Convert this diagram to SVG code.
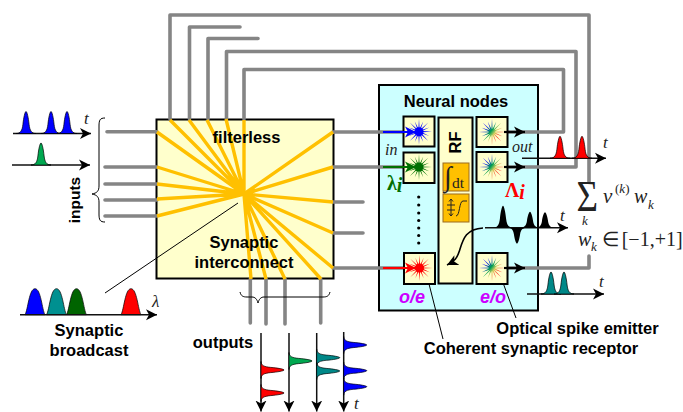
<svg xmlns="http://www.w3.org/2000/svg" width="683" height="412" viewBox="0 0 683 412">
<style>
text{font-family:"Liberation Sans",Arial,sans-serif;fill:#000}
.b{font-weight:700;font-size:16.5px;text-anchor:middle}
.m{font-weight:700;font-style:italic;font-size:18px;fill:#cc00ff}
.s{font-family:"Liberation Serif","Times New Roman",serif;font-style:italic;font-size:16px;fill:#222}
.r{font-family:"Liberation Serif","Times New Roman",serif;fill:#222}
.box{fill:#ffffcc;stroke:#000;stroke-width:2}
.sm{fill:#ffc000;stroke:#9c6b1e;stroke-width:1}
.g{fill:none;stroke:#858585;stroke-width:3.6;stroke-linejoin:round;stroke-linecap:round}
.y{fill:none;stroke:#ffc000;stroke-width:3.4}
.ax{fill:none;stroke:#111;stroke-width:1.5;marker-end:url(#ah)}
.th{fill:none;stroke:#000;stroke-width:1}
.k{fill:none;stroke:#000;stroke-width:2.2;marker-end:url(#ah)}
.pu{stroke:#000;stroke-width:.7}
</style>
<defs>
<marker id="ah" markerUnits="userSpaceOnUse" markerWidth="12" markerHeight="12" refX="11" refY="6" orient="auto"><path d="M0 .5L11 6L0 11.5L3 6Z" fill="#000"/></marker>
<marker id="ahb" markerUnits="userSpaceOnUse" markerWidth="12" markerHeight="12" refX="11" refY="6" orient="auto"><path d="M0 .5L11 6L0 11.5L3 6Z" fill="#0000ff"/></marker>
<marker id="ahg" markerUnits="userSpaceOnUse" markerWidth="12" markerHeight="12" refX="11" refY="6" orient="auto"><path d="M0 .5L11 6L0 11.5L3 6Z" fill="#007000"/></marker>
<marker id="ahr" markerUnits="userSpaceOnUse" markerWidth="12" markerHeight="12" refX="11" refY="6" orient="auto"><path d="M0 .5L11 6L0 11.5L3 6Z" fill="#ff0000"/></marker>
<path id="spike" d="M-10 0C-5.5 0-3.8-3-3.1-9C-2.4-16-1-22 0-22C1-22 2.4-16 3.1-9C3.8-3 5.5 0 10 0Z"/>
<path id="hump" d="M-10 0C-7-5-6-26 0-26C6-26 7-5 10 0Z"/>
<path id="ray" d="M13 0L2.94 .59L10.2 4.2L2.49 1.67L9.2 9.2L1.67 2.49L4.2 10.2L.59 2.94L0 13L-.59 2.94L-4.2 10.2L-1.67 2.49L-9.2 9.2L-2.49 1.67L-10.2 4.2L-2.94 .59L-13 0L-2.94 -.59L-10.2 -4.2L-2.49 -1.67L-9.2 -9.2L-1.67 -2.49L-4.2 -10.2L-.59 -2.94L0 -13L.59 -2.94L4.2 -10.2L1.67 -2.49L9.2 -9.2L2.49 -1.67L10.2 -4.2L2.94 -.59Z"/>
<linearGradient id="rb" gradientUnits="userSpaceOnUse" x1="-9" y1="-6" x2="9" y2="8">
<stop offset=".12" stop-color="#0000ff"/><stop offset=".42" stop-color="#00a050"/><stop offset=".6" stop-color="#d8d060"/><stop offset=".82" stop-color="#ff2020"/>
</linearGradient>
</defs>

<g id="interconnect"><rect x="156.5" y="119.5" width="177" height="159" class="box"/></g>
<g id="neural-nodes"><rect x="379" y="85" width="159" height="225.5" fill="#ccffff" stroke="#000" stroke-width="2"/></g>
<g id="rf"><rect x="438.5" y="117.5" width="34" height="166" class="box"/>
<rect x="443" y="163" width="26" height="28" class="sm"/><rect x="443" y="194" width="26" height="28" class="sm"/>
<text class="r" x="444" y="186" font-size="28">∫</text>
<text class="r" x="452" y="188" font-size="15.5">dt</text>
<path d="M451 199V216M449 201.5L451 199L453 201.5M449 213.5L451 216L453 213.5M447 205H455M447 210H455M456 216C460 216 459 201 463 201H467" fill="none" stroke="#222" stroke-width="1"/>
</g>

<g id="connectors">
<g class="g">
<path d="M170 119V15H589V182"/>
<path d="M189.5 119V27H240"/>
<path d="M208 119V38.5H258"/>
<path d="M226.5 119V51.5H576V167H505"/>
<path d="M244 119V69.5H563.5V132H505"/>
<path d="M505 268H589V256"/>
<path d="M107 131.7H157M105 167H157M105 184H157M105 200H157M105 216H157"/>
<path d="M333 132H403M333 167H403M333 202H363M333 233H363M333 268H403"/>
<path d="M250.3 279V323M266 279V324M285 279V324M320.7 279V323"/>
</g>
<g class="y">
<path d="M170 120L244 194M189 120L244 194M207 120L244 194M226 119L244 194M244 120V194"/>
<path d="M157 132L244 194M157 167L244 194M157 184L244 194M157 199L244 194M157 216L244 194"/>
<path d="M333 132L244 194M333 167L244 194M333 202L244 194M333 233L244 194M333 268L244 194"/>
<path d="M251 279L244 194M266 279L244 194M285 279L244 194M321 279L244 194"/>
</g>
<path d="M238 203L105 293" class="th"/>
<path d="M428 280L443 339" class="th"/>
<path d="M502 280L516 318" class="th"/>
<path d="M105 118C100 118 99 120 99 126V186C99 191 97 193 92 194C97 195 99 197 99 202V214C99 220 100 222 105 222" class="th" stroke-width="1.2"/>
<path d="M240 292C241 296 243 297 247 297H252C255 297 257 299 258 303C259 299 261 297 264 297H323C327 297 329 296 330 292" class="th" stroke-width="1.2"/>
</g>

<g id="input-pulses">
<path class="ax" d="M13 133.5H91"/><path class="ax" d="M12 165H90"/>
<use href="#spike" class="pu" fill="#0000ff" transform="translate(26,133.5)"/>
<use href="#spike" class="pu" fill="#0000ff" transform="translate(51,133.5)"/>
<use href="#spike" class="pu" fill="#0000ff" transform="translate(67,133.5)"/>
<use href="#spike" class="pu" fill="#00a850" transform="translate(41,165)"/>
</g>
<g id="broadcast-spectrum">
<use href="#hump" class="pu" fill="#0000ff" transform="translate(35,314.7)"/>
<use href="#hump" class="pu" fill="#009090" transform="translate(56.5,314.7)"/>
<use href="#hump" class="pu" fill="#006400" transform="translate(76.5,314.7)"/>
<use href="#hump" class="pu" fill="#ff0000" transform="translate(131,314.7)"/>
<path class="ax" d="M20 314.7H157"/>
</g>
<g id="output-spikes">
<path class="ax" d="M522 158.3H606"/>
<use href="#spike" class="pu" fill="#ff0000" transform="translate(560,158.3)"/>
<use href="#spike" class="pu" fill="#ff0000" transform="translate(582,158.3)"/>
<path class="ax" d="M527 294H604"/>
<use href="#spike" class="pu" fill="#008888" transform="translate(551,294)"/>
<use href="#spike" class="pu" fill="#008888" transform="translate(564,294)"/>
</g>
<g id="emitter-pulses">
<path class="ax" d="M485 227.7H568"/>
<use href="#spike" fill="#000" transform="translate(503,227.7)"/>
<use href="#spike" fill="#000" transform="translate(517,227.7) scale(1,-.72)"/>
<use href="#spike" fill="#000" transform="translate(530,227.7) scale(1,.72)"/>
<use href="#spike" fill="#000" transform="translate(545,227.7) scale(1,.7)"/>
</g>
<g id="time-outputs">
<path class="ax" d="M261 333V411.5"/><path class="ax" d="M289 333V411.5"/><path class="ax" d="M316.7 333V411.5"/><path class="ax" d="M343.7 332V411.5"/>
<use href="#spike" class="pu" fill="#ff0000" transform="translate(261,370) rotate(90) scale(.85,1.05)"/>
<use href="#spike" class="pu" fill="#ff0000" transform="translate(261,393) rotate(90) scale(.85,1.05)"/>
<use href="#spike" class="pu" fill="#00a850" transform="translate(289,361) rotate(90) scale(.85,1.05)"/>
<use href="#spike" class="pu" fill="#008888" transform="translate(316.7,357.7) rotate(90) scale(.85,1.05)"/>
<use href="#spike" class="pu" fill="#008888" transform="translate(316.7,371) rotate(90) scale(.85,1.05)"/>
<use href="#spike" class="pu" fill="#0000ff" transform="translate(343.7,345) rotate(90) scale(.85,1.05)"/>
<use href="#spike" class="pu" fill="#0000ff" transform="translate(343.7,370.7) rotate(90) scale(.85,1.05)"/>
<use href="#spike" class="pu" fill="#0000ff" transform="translate(343.7,386.7) rotate(90) scale(.85,1.05)"/>
</g>

<g id="in-node-1"><rect x="403.5" y="116.5" width="31" height="30" class="box"/><use href="#ray" fill="#0000ff" transform="translate(419,131.7)"/><circle cx="419" cy="131.7" r="4.5" fill="#0000ff"/></g>
<g id="in-node-2"><rect x="403.5" y="152.5" width="31" height="30.5" class="box"/><use href="#ray" fill="#007000" transform="translate(419,167)"/><circle cx="419" cy="167" r="4.5" fill="#007000"/></g>
<g id="in-node-3"><rect x="404" y="253" width="31" height="31" class="box"/><use href="#ray" fill="#ff0000" transform="translate(419.5,268)"/><circle cx="419.5" cy="268" r="4.5" fill="#ff0000"/></g>
<g id="out-node-1"><rect x="476.5" y="117" width="31" height="30" class="box"/><use href="#ray" fill="url(#rb)" transform="translate(492,132)"/></g>
<g id="out-node-2"><rect x="476.5" y="152" width="31" height="30" class="box"/><use href="#ray" fill="url(#rb)" transform="translate(492,167)"/></g>
<g id="out-node-3"><rect x="476.5" y="253" width="31" height="31" class="box"/><use href="#ray" fill="url(#rb)" transform="translate(492,268)"/></g>

<g id="signal-arrows">
<path d="M383 132H416" fill="none" stroke="#0000ff" stroke-width="2.2" marker-end="url(#ahb)"/>
<path d="M383 167H416" fill="none" stroke="#007000" stroke-width="2.2" marker-end="url(#ahg)"/>
<path d="M383 268H416" fill="none" stroke="#ff0000" stroke-width="2.2" marker-end="url(#ahr)"/>
<path class="k" d="M504 132H525"/><path class="k" d="M504 167H525"/><path class="k" d="M504 268H525"/>
<path d="M483 228C465 229 463 240 459 252C457 258 455 261 447 265" fill="none" stroke="#000" stroke-width="1.6" marker-end="url(#ah)"/>
<g fill="#000"><circle cx="418.7" cy="197" r="1.6"/><circle cx="418.7" cy="205" r="1.6"/><circle cx="418.7" cy="213" r="1.6"/><circle cx="418.7" cy="220.5" r="1.6"/><circle cx="418.7" cy="228" r="1.6"/><circle cx="418.7" cy="235.5" r="1.6"/><circle cx="418.7" cy="243" r="1.6"/></g>
</g>

<g id="labels">
<text class="b" x="246.5" y="143">filterless</text>
<text class="b" x="244" y="248">Synaptic</text>
<text class="b" x="244" y="268">interconnect</text>
<text class="b" x="456" y="106.5">Neural nodes</text>
<text class="b" transform="translate(461,142.5) rotate(-90)">RF</text>
<text class="b" transform="translate(80,200) rotate(-90)" style="font-size:15.5px">inputs</text>
<text class="b" x="223" y="347.5">outputs</text>
<text class="b" x="89" y="336">Synaptic</text>
<text class="b" x="89" y="356">broadcast</text>
<text class="b" x="577.5" y="334">Optical spike emitter</text>
<text class="b" x="531" y="354">Coherent synaptic receptor</text>
<text class="m" x="399" y="302.7">o/e</text>
<text class="m" x="480" y="302.7">e/o</text>
<text class="s" x="385" y="155">in</text>
<text class="s" x="512" y="151.7">out</text>
<text x="387" y="190" style="fill:#007000;font-family:'Liberation Serif',serif;font-weight:700;font-size:20px">λ<tspan font-style="italic" dy="2">i</tspan></text>
<text x="505" y="196.5" style="fill:#ff0000;font-family:'Liberation Serif',serif;font-weight:700;font-size:20px">Λ<tspan font-style="italic" dy="2">i</tspan></text>
<text class="s" x="84" y="124" style="font-size:17px">t</text>
<text class="s" x="152" y="306.5" style="font-size:17px">λ</text>
<text class="s" x="603" y="148" style="font-size:17px">t</text>
<text class="s" x="560" y="221" style="font-size:17px">t</text>
<text class="s" x="599" y="286.5" style="font-size:17px">t</text>
<text class="s" x="354" y="409" style="font-size:17px">t</text>
<text class="r" transform="translate(576.5,211) scale(1,1.17)" font-size="37">Σ</text>
<text class="s" x="585" y="225" style="font-size:13px" text-anchor="middle">k</text>
<text class="s" x="603" y="203" style="font-size:21px">ν</text>
<text class="r" x="615" y="193" font-size="13">(<tspan font-style="italic">k</tspan>)</text>
<text class="s" x="634" y="203" style="font-size:20px">w</text>
<text class="s" x="648" y="208.5" style="font-size:13px">k</text>
<text class="s" x="578" y="246" style="font-size:20px">w</text>
<text class="s" x="591" y="251" style="font-size:13px">k</text>
<text class="r" x="602" y="246" font-size="20">∈</text>
<text class="r" x="621.7" y="246" font-size="20">[−1,+1]</text>
</g>
</svg>
